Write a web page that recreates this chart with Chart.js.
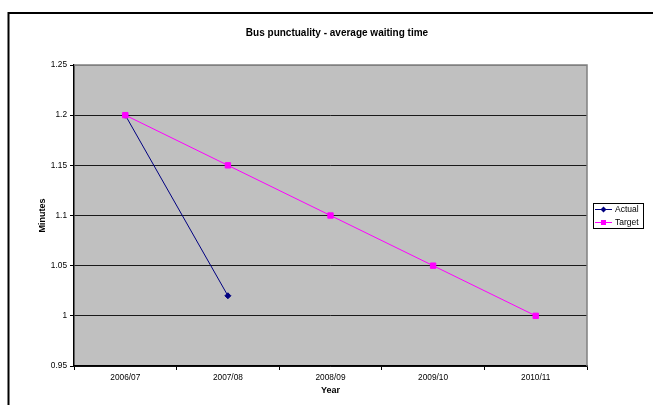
<!DOCTYPE html>
<html>
<head>
<meta charset="utf-8">
<script src="https://cdn.jsdelivr.net/npm/chart.js@4/dist/chart.umd.min.js"></script>
<style>
  html, body { margin: 0; padding: 0; background: #fff; }
  canvas { display: block; }
</style>
</head>
<body>
<canvas id="chart" width="653" height="405"></canvas>
<script>
// Data
const years = ['2006/07', '2007/08', '2008/09', '2009/10', '2010/11'];
const actual = [1.2, 1.02, null, null, null];
const target = [1.2, 1.15, 1.1, 1.05, 1.0];
const yTicks = [0.95, 1, 1.05, 1.1, 1.15, 1.2, 1.25];

const FONT = 'Liberation Sans, Arial, sans-serif';
const PLOT_BG = '#C0C0C0';
const PLOT_EDGE = '#808080';

// Excel-like decorations: outer frame, grey plot area, title and boxed legend
const excelLook = {
  id: 'excelLook',
  beforeDraw(chart) {
    const { ctx, chartArea: a } = chart;
    ctx.save();
    ctx.fillStyle = PLOT_BG;
    ctx.fillRect(a.left, a.top, a.right - a.left, a.bottom - a.top);
    ctx.restore();
  },
  beforeDatasetsDraw(chart) {
    const { ctx, chartArea: a } = chart;
    ctx.save();
    ctx.strokeStyle = PLOT_EDGE;
    ctx.lineWidth = 1.5;
    ctx.beginPath();
    ctx.moveTo(a.left, a.top);
    ctx.lineTo(a.right, a.top);
    ctx.lineTo(a.right, a.bottom);
    ctx.stroke();
    ctx.restore();
  },
  afterDraw(chart) {
    const { ctx } = chart;
    ctx.save();
    // outer frame (right and bottom fall outside the picture)
    ctx.strokeStyle = '#000';
    ctx.lineWidth = 2;
    ctx.strokeRect(8.5, 13, 700, 450);

    // title
    ctx.fillStyle = '#000';
    ctx.font = 'bold 10px ' + FONT;
    ctx.textAlign = 'center';
    ctx.textBaseline = 'middle';
    ctx.fillText('Bus punctuality - average waiting time', 337, 33);

    // legend
    const bx = 593, by = 203, bw = 50, bh = 25;
    ctx.fillStyle = '#fff';
    ctx.fillRect(bx, by, bw, bh);
    ctx.strokeStyle = '#000';
    ctx.lineWidth = 1;
    ctx.strokeRect(bx + 0.5, by + 0.5, bw, bh);
    ctx.font = '8.5px ' + FONT;
    ctx.textAlign = 'left';
    chart.data.datasets.forEach((ds, i) => {
      const y = by + 6.5 + i * 13;
      ctx.strokeStyle = ds.borderColor;
      ctx.lineWidth = 1;
      ctx.beginPath();
      ctx.moveTo(bx + 2, y);
      ctx.lineTo(bx + 19, y);
      ctx.stroke();
      ctx.fillStyle = ds.borderColor;
      ctx.beginPath();
      if (ds.pointStyle === 'rectRot') {
        ctx.moveTo(bx + 10.5, y - 3);
        ctx.lineTo(bx + 13.5, y);
        ctx.lineTo(bx + 10.5, y + 3);
        ctx.lineTo(bx + 7.5, y);
        ctx.closePath();
      } else {
        ctx.rect(bx + 8, y - 2.5, 5, 5);
      }
      ctx.fill();
      ctx.fillStyle = '#000';
      ctx.fillText(ds.label, bx + 22, y + 0.5);
    });
    ctx.restore();
  }
};

new Chart(document.getElementById('chart'), {
  type: 'line',
  data: {
    labels: years,
    datasets: [
      {
        label: 'Actual',
        data: actual,
        order: 1,
        borderColor: '#000080',
        backgroundColor: '#000080',
        borderWidth: 1,
        pointStyle: 'rectRot',
        pointRadius: 3,
        spanGaps: false,
        tension: 0,
      },
      {
        label: 'Target',
        data: target,
        order: 0,
        borderColor: '#FF00FF',
        backgroundColor: '#FF00FF',
        borderWidth: 1,
        pointStyle: 'rect',
        pointRadius: 3.8,
        tension: 0,
      },
    ],
  },
  options: {
    responsive: false,
    animation: false,
    devicePixelRatio: 1,
    layout: { padding: { left: 0, top: 65, right: 66, bottom: 0 } },
    plugins: {
      legend: { display: false },
      title: { display: false },
      tooltip: { enabled: false },
    },
    scales: {
      x: {
        offset: true,
        afterFit: (s) => { s.height = 39; },
        grid: {
          offset: true,
          drawOnChartArea: false,
          drawTicks: true,
          tickLength: 4,
          tickColor: '#000',
        },
        border: { color: '#000', width: 1.5 },
        ticks: {
          color: '#000',
          font: { family: FONT, size: 8.3 },
          padding: 3,
          maxRotation: 0,
        },
        title: {
          display: true,
          text: 'Year',
          color: '#000',
          font: { family: FONT, size: 9, weight: 'bold' },
          padding: { top: 0, bottom: 8.6 },
        },
      },
      y: {
        min: 0.95,
        max: 1.25,
        afterFit: (s) => { s.width = 74; },
        afterBuildTicks: (s) => { s.ticks = yTicks.map((v) => ({ value: v })); },
        grid: {
          color: (c) => (c.tick && c.tick.value === 1.25 ? PLOT_EDGE : '#1a1a1a'),
          lineWidth: 1,
          tickLength: 4,
          tickColor: '#000',
        },
        border: { color: '#000', width: 1.5 },
        ticks: {
          color: '#000',
          font: { family: FONT, size: 8.3 },
          padding: 3,
          callback: (v) => String(Math.round(v * 100) / 100),
        },
        title: {
          display: true,
          text: 'Minutes',
          color: '#000',
          font: { family: FONT, size: 9, weight: 'bold' },
          padding: { top: 37.6, bottom: 0 },
        },
      },
    },
  },
  plugins: [excelLook],
});
</script>
</body>
</html>
